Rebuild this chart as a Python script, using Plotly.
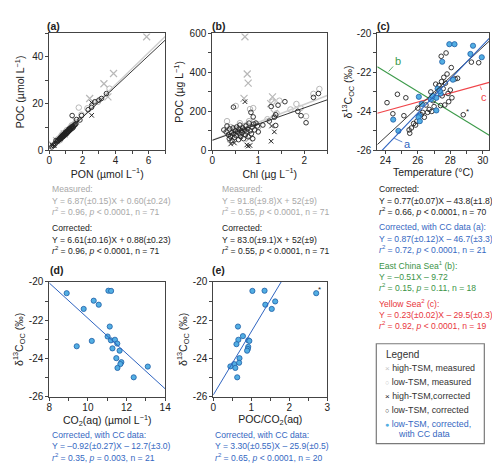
import plotly.graph_objects as go

# ---------------- data ----------------
# Panel (a): PON vs POC (umol/L)
a_low_corr_pon = [0.15,0.25,0.35,0.40,0.45,0.50,0.55,0.60,0.62,0.65,0.68,0.70,0.72,0.75,0.78,0.80,0.82,0.85,0.87,0.90,
                  0.92,0.95,0.97,1.00,1.02,1.05,1.08,1.10,1.12,1.15,1.18,1.20,1.22,1.25,1.28,1.30,1.35,1.38,1.42,1.45,
                  1.50,1.55,1.60,1.38,1.65,1.85,1.95,2.35,2.55,2.75,3.00,3.15,3.45]
a_low_corr_poc = [1.5,2.1,2.9,4.2,3.6,4.0,4.3,4.6,5.0,4.8,5.3,5.6,5.1,5.9,6.2,5.7,6.5,6.1,6.8,6.4,
                  7.0,7.3,6.7,7.5,7.9,7.2,8.1,7.7,8.4,8.0,8.7,9.1,8.5,9.3,8.9,9.6,10.0,9.4,10.3,9.9,
                  10.6,11.0,11.3,14.9,13.2,13.0,14.9,17.4,18.4,20.8,21.5,22.2,24.3]
a_low_meas_pon = [0.30,0.50,0.55,0.60,0.65,0.70,0.75,0.80,0.85,0.90,0.95,1.00,1.05,1.10,1.15,1.20,1.25,1.30,1.35,1.40,
                  1.50,1.60,1.78,1.94,2.30,2.60,2.94,3.64]
a_low_meas_poc = [2.5,4.4,4.9,5.2,4.4,5.9,6.6,6.3,7.2,6.9,7.6,7.8,8.6,8.2,8.9,9.0,9.6,9.9,10.7,10.5,
                  11.2,12.0,18.3,15.3,18.0,19.5,20.8,26.4]
a_high_meas_pon = [5.88,3.88,3.30,2.44,3.54,0.44,0.14,1.60,0.90]
a_high_meas_poc = [48.6,32.9,28.5,22.2,22.9,4.2,2.8,12.5,7.0]
a_high_corr_pon = [2.56,2.56,0.14,0.30,0.80,1.00,1.20]
a_high_corr_poc = [15.0,20.4,2.4,2.0,6.0,7.5,9.0]

# Panel (b): Chl vs POC (ug/L)
b_low_corr_chl = [0.25,0.30,0.32,0.35,0.37,0.38,0.40,0.42,0.43,0.45,0.47,0.48,0.50,0.52,0.53,0.55,0.57,0.58,0.60,0.60,
                  0.62,0.63,0.65,0.66,0.68,0.70,0.72,0.73,0.75,0.77,0.78,0.80,0.82,0.84,0.85,0.87,0.88,0.89,0.90,0.92,
                  0.95,1.00,0.46,1.58,1.43,1.28,1.38,2.20,2.31,1.86,1.93,2.04,1.38,1.24,1.35,1.10,0.98]
b_low_corr_poc = [105,95,125,80,60,110,70,90,50,115,85,65,100,75,120,95,55,110,85,130,
                  70,100,90,115,60,105,80,125,95,110,70,140,100,195,85,120,60,172,135,105,
                  140,95,222,250,232,225,183,272,292,200,178,142,128,150,170,130,125]
b_low_meas_chl = [0.89,0.51,0.32,1.31,1.46,1.83,2.04,2.33,1.92,0.82,0.40,0.50,0.60,0.70,0.55,0.65,0.75,0.80,0.90,0.45,
                  0.35,0.60,1.00,1.20,1.40,2.20,1.70]
b_low_meas_poc = [217,228,150,250,255,238,175,315,217,212,120,110,140,125,95,105,130,150,145,90,
                  100,80,120,160,190,290,210]
b_high_meas_chl = [0.71,0.76,0.78,0.69,1.31,1.27,1.35,0.40,0.80]
b_high_meas_poc = [583,392,345,267,275,240,190,60,60]
b_high_corr_chl = [0.71,1.29,1.35,1.28,0.40,0.48,0.75,0.82,0.78]
b_high_corr_poc = [250,125,95,47,33,38,28,25,22]

# Panel (c): temperature vs d13C
c_low_T = [27.44,27.74,28.06,27.80,27.60,27.46,27.30,27.56,27.86,27.70,28.30,29.30,29.75,24.74,25.26,24.10,24.46,25.14,
           25.46,25.50,25.74,25.86,25.94,26.20,26.30,26.60,26.86,27.00,27.40,27.66,28.80,26.94,26.50,26.00,28.00,27.20,
           26.80,27.90,28.10,27.10,28.45,26.40,26.70,27.50,25.60]
c_low_d13 = [-21.17,-21.00,-21.75,-22.08,-22.25,-22.47,-22.67,-22.83,-23.08,-22.55,-22.33,-21.47,-21.50,-23.12,-23.30,
             -23.55,-24.12,-24.22,-24.95,-25.12,-24.62,-24.70,-24.50,-24.17,-24.05,-24.05,-24.00,-23.75,-23.70,-23.67,
             -24.17,-23.45,-23.67,-23.83,-22.90,-23.10,-23.00,-23.50,-23.30,-22.60,-22.30,-24.30,-23.90,-23.20,-24.85]
c_cc_T = [27.94,28.26,29.40,29.24,29.94,27.50,28.16,27.22,27.40,27.14,26.06,26.80,26.24,26.10,26.04,26.12,27.14,24.48,
          24.80,26.90,27.35]
c_cc_d13 = [-20.55,-20.55,-20.63,-21.05,-21.22,-21.45,-22.37,-22.83,-23.08,-23.30,-23.25,-23.38,-23.62,-24.22,-24.30,
            -24.50,-23.95,-24.42,-25.00,-23.20,-22.95]

# Panel (d): CO2(aq) vs d13C
d_co2 = [8.90,11.06,11.20,10.30,10.56,9.78,11.13,11.02,11.19,11.40,11.52,10.20,9.42,11.27,11.64,11.47,11.73,11.68,
         11.53,13.10,12.37]
d_d13 = [-20.59,-20.46,-20.47,-20.98,-21.19,-21.41,-22.33,-22.85,-23.05,-23.02,-23.22,-23.08,-23.36,-23.47,-23.59,
         -23.98,-24.19,-24.29,-24.49,-24.42,-24.98]

# Panel (e): POC/CO2(aq) vs d13C
e_ratio = [1.03,1.35,2.71,1.37,1.63,1.54,0.65,0.78,0.66,0.61,0.92,0.95,0.92,0.91,0.89,0.69,0.68,0.55,0.45,0.58,0.63]
e_d13 = [-20.47,-20.46,-20.59,-21.19,-21.02,-21.41,-22.33,-22.83,-23.02,-23.25,-23.05,-23.08,-23.39,-23.50,-23.59,
         -23.98,-24.22,-24.29,-24.41,-24.49,-24.98]

# regression lines (slope, intercept)
fit_a_meas = (6.87, 0.60)
fit_a_corr = (6.61, 0.88)
fit_b_meas = (91.8, 52.0)
fit_b_corr = (83.0, 52.0)
fit_c_corr = (0.77, -43.8)
fit_c_cc = (0.87, -46.7)
fit_c_ecs = (-0.51, -9.72)
fit_c_ys = (0.23, -29.5)
fit_d = (-0.92, -12.7)
fit_e = (3.30, -25.9)

# tick labels for d13C axes
d13_tickvals = [-26, -24, -22, -20]
d13_ticktext = ["-26", "-24", "-22", "-20"]

# ---------------- style ----------------
W, H = 500, 465
FONT = "Liberation Sans, Arial, sans-serif"
GRAY = "#b8b8b8"
BLACK = "#222222"
AXC = "#444444"
BLUE_T = "#3568c2"
GREEN_T = "#3b9447"
RED_T = "#e8363c"
BLUE_L = "#2f64c0"
CC_FILL = "#52aee3"
CC_EDGE = "#1f5ea6"

fig = go.Figure()

def pts(x, y, ax, kind):
    if kind == "gx":
        m = dict(symbol="x-thin", size=7, line=dict(color=GRAY, width=1.2))
    elif kind == "go":
        m = dict(symbol="circle-open", size=5.5, color=GRAY, line=dict(width=1))
    elif kind == "bx":
        m = dict(symbol="x-thin", size=4.5, line=dict(color=BLACK, width=1))
    elif kind == "bo":
        m = dict(symbol="circle-open", size=4.6, color=BLACK, line=dict(width=0.9))
    else:
        m = dict(symbol="circle", size=5.2, color=CC_FILL, line=dict(color=CC_EDGE, width=0.8))
    fig.add_trace(go.Scatter(x=x, y=y, xaxis="x" + ax, yaxis="y" + ax, mode="markers",
                             marker=m, showlegend=False, hoverinfo="skip"))

def fitline(fit, rng, ax, color, width=1.0):
    xs = [rng[0], rng[1]]
    ys = [fit[0] * v + fit[1] for v in xs]
    fig.add_trace(go.Scatter(x=xs, y=ys, xaxis="x" + ax, yaxis="y" + ax, mode="lines",
                             line=dict(color=color, width=width), showlegend=False, hoverinfo="skip"))

rng_a = (0, 7); rng_b = (0, 2.5); rng_c = (23.5, 30.4); rng_d = (8, 14); rng_e = (0, 3)

# (a)
pts(a_low_meas_pon, a_low_meas_poc, "", "go")
pts(a_high_meas_pon, a_high_meas_poc, "", "gx")
fitline(fit_a_meas, rng_a, "", "#cfcfcf", 1.6)
pts(a_low_corr_pon, a_low_corr_poc, "", "bo")
pts(a_high_corr_pon, a_high_corr_poc, "", "bx")
fitline(fit_a_corr, rng_a, "", BLACK, 0.9)
# (b)
pts(b_low_meas_chl, b_low_meas_poc, "2", "go")
pts(b_high_meas_chl, b_high_meas_poc, "2", "gx")
fitline(fit_b_meas, rng_b, "2", "#cfcfcf", 1.6)
pts(b_low_corr_chl, b_low_corr_poc, "2", "bo")
pts(b_high_corr_chl, b_high_corr_poc, "2", "bx")
fitline(fit_b_corr, rng_b, "2", BLACK, 0.9)
# (c)
fitline(fit_c_ecs, rng_c, "3", "#3c9a4a", 1.1)
fitline(fit_c_ys, rng_c, "3", "#f0454a", 1.1)
pts(c_low_T, c_low_d13, "3", "bo")
pts(c_cc_T, c_cc_d13, "3", "cc")
fitline(fit_c_corr, rng_c, "3", BLACK, 0.9)
fitline(fit_c_cc, rng_c, "3", BLUE_L, 1.1)
# (d)
pts(d_co2, d_d13, "4", "cc")
fitline(fit_d, rng_d, "4", BLUE_L, 1.0)
# (e)
pts(e_ratio, e_d13, "5", "cc")
fitline(fit_e, rng_e, "5", BLUE_L, 1.0)

def xd(a, b): return [a / W, b / W]
def yd(t, b): return [1 - b / H, 1 - t / H]

def axis(domain, rng, anchor, title, dtick=None, minor=None, tickvals=None, ticktext=None,
         standoff=0, is_x=True):
    d = dict(domain=domain, range=list(rng), anchor=anchor, showline=True, mirror=True, linecolor=AXC,
             linewidth=1, ticks="outside", ticklen=3, tickwidth=1, tickcolor=AXC, showgrid=False,
             zeroline=False, tickfont=dict(size=10, color=BLACK, family=FONT),
             ticklabelstandoff=-2 if is_x else 0,
             title=dict(text=title, font=dict(size=10.5, color=BLACK, family=FONT), standoff=standoff),
             minor=dict(ticks="outside", ticklen=3, tickwidth=1, tickcolor=AXC, dtick=minor, tick0=0,
                        showgrid=False))
    if tickvals is not None:
        d.update(tickmode="array", tickvals=tickvals, ticktext=ticktext)
    else:
        d.update(tickmode="linear", tick0=0, dtick=dtick)
    return d

d13_title = "δ<sup>13</sup>C<sub>OC</sub> (‰)"
top = yd(20, 140); bot = yd(275, 393)
fig.update_layout(
    xaxis=axis(xd(39, 157), rng_a, "y", "PON (µmol L<sup>−1</sup>)", 2, 1),
    yaxis=axis(top, (0, 50), "x", "POC (µmol L<sup>−1</sup>)", 20, 10, standoff=5, is_x=False),
    xaxis2=axis(xd(205, 322), rng_b, "y2", "Chl (µg L<sup>−1</sup>)", 1, 0.5),
    yaxis2=axis(top, (0, 600), "x2", "POC (µg L<sup>−1</sup>)", 200, 100, standoff=3, is_x=False),
    xaxis3=axis(xd(373, 487), rng_c, "y3", "Temperature (°C)", 2, 1),
    yaxis3=axis(top, (-26, -20), "x3", d13_title, None, 1, d13_tickvals, d13_ticktext, standoff=2, is_x=False),
    xaxis4=axis(xd(39, 157), rng_d, "y4", "CO<sub>2</sub>(aq) (µmol L<sup>−1</sup>)", 2, 1),
    yaxis4=axis(bot, (-26, -20), "x4", d13_title, None, 1, d13_tickvals, d13_ticktext, standoff=3, is_x=False),
    xaxis5=axis(xd(206, 322), rng_e, "y5", "POC/CO<sub>2</sub>(aq)", 1, 0.5),
    yaxis5=axis(bot, (-26, -20), "x5", d13_title, None, 1, d13_tickvals, d13_ticktext, standoff=3, is_x=False),
    width=W, height=H, margin=dict(l=0, r=0, t=0, b=0),
    paper_bgcolor="white", plot_bgcolor="white", showlegend=False,
    font=dict(family=FONT, color=BLACK),
)

TS = 8.6

def txt(x, y, s, color=BLACK, size=TS, bold=False):
    if bold:
        s = "<b>" + s + "</b>"
    fig.add_annotation(x=x / W, y=1 - y / H, xref="paper", yref="paper", text=s, showarrow=False,
                       xanchor="left", yanchor="middle", font=dict(size=size, color=color, family=FONT))

# panel labels
txt(35, 12, "(a)", size=10.5, bold=True)
txt(203, 12, "(b)", size=10.5, bold=True)
txt(371, 12, "(c)", size=10.5, bold=True)
txt(38, 263, "(d)", size=10.5, bold=True)
txt(203, 263, "(e)", size=10.5, bold=True)

GT = "#a8a8a8"
R2 = "<i>r</i><sup>2</sup>"
P = "<i>p</i>"
# (a) text
txt(40, 180, "Measured:", GT)
txt(40, 191.5, "Y = 6.87(±0.15)X + 0.60(±0.24)", GT)
txt(40, 203, f"{R2} = 0.96, {P} &lt; 0.0001, n = 71", GT)
txt(40, 220, "Corrected:")
txt(40, 231.5, "Y = 6.61(±0.16)X + 0.88(±0.23)")
txt(40, 243, f"{R2} = 0.96, {P} &lt; 0.0001, n = 71")
# (b) text
txt(213, 180, "Measured:", GT)
txt(213, 191.5, "Y = 91.8(±9.8)X + 52(±9)", GT)
txt(213, 203, f"{R2} = 0.55, {P} &lt; 0.0001, n = 71", GT)
txt(213, 220, "Corrected:")
txt(213, 231.5, "Y = 83.0(±9.1)X + 52(±9)")
txt(213, 243, f"{R2} = 0.55, {P} &lt; 0.0001, n = 71")
# (c) text
txt(373, 180, "Corrected:")
txt(373, 191.5, "Y = 0.77(±0.07)X – 43.8(±1.8)")
txt(373, 203, f"{R2} = 0.66, {P} &lt; 0.0001, n = 70")
txt(373, 219, "Corrected, with CC data (a):", BLUE_T)
txt(373, 230.5, "Y = 0.87(±0.12)X – 46.7(±3.3)", BLUE_T)
txt(373, 242, f"{R2} = 0.72, {P} &lt; 0.0001, n = 21", BLUE_T)
txt(373, 258, "East China Sea<sup>1</sup> (b):", GREEN_T)
txt(373, 269.5, "Y = –0.51X – 9.72", GREEN_T)
txt(373, 281, f"{R2} = 0.15, {P} = 0.11, n = 18", GREEN_T)
txt(373, 297, "Yellow Sea<sup>2</sup> (c):", RED_T)
txt(373, 308.5, "Y = 0.23(±0.02)X – 29.5(±0.3)", RED_T)
txt(373, 320, f"{R2} = 0.92, {P} &lt; 0.0001, n = 19", RED_T)
# (d) text
txt(40, 432, "Corrected, with CC data:", BLUE_T)
txt(40, 443.5, "Y = –0.92(±0.27)X – 12.7(±3.0)", BLUE_T)
txt(40, 455, f"{R2} = 0.35, {P} = 0.003, n = 21", BLUE_T)
# (e) text
txt(206, 432, "Corrected, with CC data:", BLUE_T)
txt(206, 443.5, "Y = 3.30(±0.55)X – 25.9(±0.5)", BLUE_T)
txt(206, 455, f"{R2} = 0.65, {P} &lt; 0.0001, n = 20", BLUE_T)

# line labels in (c)
def lab(x, y, s, color, ax, ay):
    fig.add_annotation(x=x, y=y, xref="x3", yref="y3", text=s, showarrow=True, arrowhead=0,
                       arrowwidth=0.8, arrowcolor=color, ax=ax, ay=ay, standoff=0,
                       font=dict(size=11, color=color, family=FONT))
lab(24.55, -25.38, "a", BLUE_L, 13, 6)
lab(24.2, -21.95, "b", "#3c9a4a", 9, -10)
lab(29.85, -22.72, "c", "#f0454a", 4, 11)
# asterisks
fig.add_annotation(x=29.08, y=-23.98, xref="x3", yref="y3", text="*", showarrow=False,
                   font=dict(size=8, color=BLACK, family=FONT))
fig.add_annotation(x=2.8, y=-20.42, xref="x5", yref="y5", text="*", showarrow=False,
                   font=dict(size=8, color=BLACK, family=FONT))

# legend box
fig.add_shape(type="rect", xref="paper", yref="paper", x0=372 / W, x1=482 / W,
              y0=1 - 441 / H, y1=1 - 338.5 / H, line=dict(color="#7a7a7a", width=1.2))
LG = "#333333"
LS = 8.9
txt(379.5, 349.5, "Legend", LG, size=10)
txt(379, 363.3, "<span style='color:#c4c4c4;font-size:8px'>×</span> high-TSM, measured", LG, size=LS)
txt(379, 377.8, "<span style='color:#c4c4c4;font-size:7px'>○</span> low-TSM, measured", LG, size=LS)
txt(379, 392.3, "<span style='color:#222222;font-size:8px'>×</span> high-TSM,corrected", LG, size=LS)
txt(379, 407.0, "<span style='color:#222222;font-size:7px'>○</span> low-TSM, corrected", LG, size=LS)
txt(379, 420.7, "<span style='color:#52aee3;font-size:7px'>●</span> low-TSM, corrected,", BLUE_T, size=LS)
txt(392.5, 431.0, "with CC data", BLUE_T, size=LS)

fig.write_html("out.html")
